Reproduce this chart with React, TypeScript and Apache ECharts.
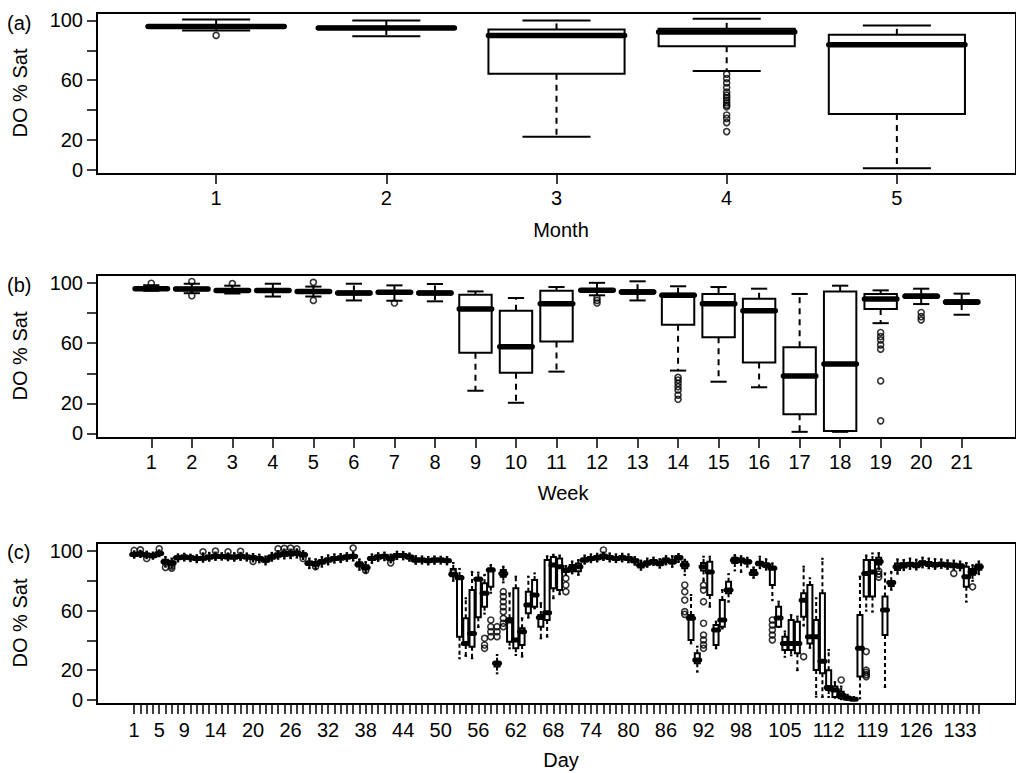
import React, { useEffect, useRef } from "react";
import * as echarts from "echarts";

const FONT = "'Liberation Sans', Arial, Helvetica, sans-serif";

// ---------- Panel (a): Month ----------
const monthCats = [1, 2, 3, 4, 5];
// [low whisker, Q1, median, Q3, high whisker]
const monthBoxes = [
  [93.3, 95.2, 96, 96.8, 100.7],
  [89.5, 94.3, 95, 95.8, 100],
  [22.2, 64.4, 90, 94, 100],
  [66.2, 82.7, 92.2, 94.4, 101.1],
  [1.1, 37.3, 83.8, 90.4, 96.7],
];
const monthOutliers = [
  [1, 90],
  [4, 64], [4, 61.1], [4, 58.2], [4, 55.1], [4, 52], [4, 50], [4, 48.4], [4, 46.7],
  [4, 44.9], [4, 43.3], [4, 42.2], [4, 36.7], [4, 34.4], [4, 31.6], [4, 25.6],
];

// ---------- Panel (b): Week ----------
const weekCats = [1, 2, 3, 4, 5, 6, 7, 8, 9, 10, 11, 12, 13, 14, 15, 16, 17, 18, 19, 20, 21];
const weekBoxes = [
  [94.8, 95.6, 96.2, 96.8, 98.5],
  [93.2, 95.2, 96, 96.8, 99.5],
  [93, 94.4, 95, 95.6, 98.2],
  [91, 94.2, 95, 95.8, 99.5],
  [91, 93.8, 94.4, 95.2, 97.6],
  [88.4, 92.4, 93.3, 94.4, 99.5],
  [88.2, 92.8, 93.8, 94.6, 98.4],
  [87.8, 92.4, 93.3, 94.4, 99.3],
  [28.4, 53.7, 82.7, 92.2, 94.4],
  [20.4, 40.4, 57.7, 81.5, 90],
  [41.1, 61.1, 86.2, 94.9, 97.3],
  [91.8, 94.3, 95.1, 96, 100.1],
  [88.4, 92.8, 94, 95.2, 101.1],
  [41.8, 72.2, 91.8, 92.9, 97.8],
  [34.4, 64, 86.2, 92.7, 97.3],
  [30.7, 47.1, 81.5, 89.5, 96.2],
  [1.1, 12.7, 38.2, 57.3, 92.7],
  [1.1, 1.6, 46.2, 94.4, 98.2],
  [73.3, 82.7, 89.3, 92.7, 95.1],
  [86, 90, 91.1, 92.3, 96.2],
  [78.9, 86, 87.3, 88.5, 92.9],
];
const weekOutliers = [
  [1, 99.8], [2, 101], [2, 91.5], [3, 99.6], [5, 100.4], [5, 88.4], [7, 86.7],
  [12, 90], [12, 88.4], [12, 86.7],
  [14, 37.3], [14, 35.5], [14, 33.3], [14, 31.1], [14, 28.9], [14, 25.5], [14, 22.7],
  [19, 67.1], [19, 64.4], [19, 62.2], [19, 58.9], [19, 56], [19, 34.9], [19, 8.4],
  [20, 80.4], [20, 77.6], [20, 75.5],
];

// ---------- Panel (c): Day ----------
const dayBoxes = [
  [95.5, 96.8, 97.6, 98.4, 99.8], [96, 97.2, 98, 98.8, 100.2], [95.2, 96.5, 97.3, 98.2, 99.6],
  [94.8, 96, 96.8, 97.6, 99], [96.5, 97.6, 98.4, 99.2, 100.5], [89.5, 91.5, 92.8, 94.2, 96],
  [88.8, 90.6, 92, 93.2, 95], [93, 94.6, 95.5, 96.4, 97.8], [93.6, 95, 96, 96.8, 98.2],
  [93.2, 94.6, 95.5, 96.3, 97.6], [92.5, 94, 95, 95.8, 97.2], [92.8, 94.4, 95.2, 96, 98.5],
  [93.5, 95, 96, 96.8, 98.8], [94, 95.6, 96.5, 97.4, 99], [94.2, 95.6, 96.4, 97.2, 98.6],
  [93.8, 95.2, 96, 96.9, 98.4], [93.5, 95, 96, 96.8, 98.6], [94, 95.6, 96.4, 97.2, 98.8],
  [93.6, 95.2, 96, 96.8, 98.4], [93, 94.6, 95.5, 96.4, 98], [92.4, 94, 95, 95.8, 97.6],
  [91, 92.8, 93.8, 94.8, 96.4], [93.5, 95, 96, 97, 98.8], [94.8, 96.4, 97.4, 98.4, 100],
  [95, 96.8, 98, 99.2, 101], [95.2, 97, 98.2, 99.4, 101], [95.6, 97.4, 98.6, 99.6, 101.2],
  [94.6, 96.4, 97.5, 98.6, 100], [88.5, 90.6, 91.8, 93, 95], [88.2, 90.2, 91.4, 92.6, 94.5],
  [89.5, 91.6, 92.8, 94, 96], [91, 93, 94, 95, 97.2], [92.2, 94, 95, 96, 97.8],
  [92.6, 94.4, 95.4, 96.4, 98], [93.4, 95, 96, 97, 98.6], [93.6, 95.4, 96.5, 97.4, 99],
  [87.4, 89.6, 91, 92.4, 94.4], [85.6, 87.6, 89, 90.4, 92.6], [92, 94, 95, 96, 97.8],
  [93.4, 95, 96, 97, 98.6], [93.8, 95.6, 96.5, 97.4, 99], [92.4, 94, 95, 96, 97.6],
  [94.6, 96, 97, 98, 99.6], [94.4, 96, 97, 97.8, 99.4], [93.4, 95, 96, 96.8, 98.4],
  [91.4, 93, 94, 95, 96.6], [91.6, 93.2, 94, 94.8, 96.4], [91, 92.6, 93.5, 94.4, 96],
  [91.4, 93, 94, 94.8, 96.4], [91.6, 93.2, 94, 94.8, 96.2], [91, 92.6, 93.5, 94.4, 96],
  [80, 83, 84.5, 88, 92],
  [28, 42.5, 82, 83.2, 88], [29.6, 36.9, 38, 54.8, 68.3], [28, 35.8, 44.7, 73.8, 86],
  [49, 55.5, 81, 82, 85.5], [58, 62.6, 71.6, 78.3, 84], [72, 76.1, 87.2, 88.3, 90.6],
  [17.9, 22.4, 24.6, 25.7, 30.2], [79, 82.8, 85, 87.2, 89.5], [34.7, 39.1, 53, 54.8, 71.6],
  [30.2, 34.7, 40.3, 75, 82.8], [29.1, 36.9, 45.8, 48.1, 54.8], [55.3, 58.2, 63.8, 72.7, 82.8],
  [61.5, 62.6, 70.5, 80.5, 85], [41.4, 49.2, 55.3, 57, 65], [42.5, 53.7, 58.6, 94, 96.5],
  [68.3, 75, 90.6, 96, 97.5], [71, 73.8, 89.5, 95, 97], [84, 86, 87, 88, 90],
  [85, 86.5, 88.4, 90.6, 93], [84, 86.5, 89.5, 91.7, 94], [91.5, 93, 94, 95, 97],
  [92.5, 94, 95, 96, 97.8], [93, 94.5, 95.5, 96.5, 98.2], [94, 95.5, 96.5, 97.5, 99],
  [93, 94.6, 95.6, 96.6, 98.4], [92.6, 94, 95, 96, 97.8], [93, 94.5, 95.5, 96.5, 98.2],
  [92.4, 94, 95, 96, 97.8], [90.8, 92.4, 93.4, 94.4, 96], [87.4, 89, 90.4, 91.6, 93.6],
  [89.4, 91, 92, 93, 95], [90.6, 92.2, 93, 94, 95.6], [88.8, 90.4, 91.7, 92.8, 94.6],
  [91, 92.8, 93.9, 95, 96.6], [89.4, 91.6, 92.8, 94, 96.6], [92.6, 94.4, 95.6, 96.6, 98],
  [84, 88.4, 90.6, 92.8, 94.2], [38, 40.3, 54.8, 57, 70.5], [19, 24.6, 26.8, 31.3, 35.8],
  [80, 87, 89.5, 92, 96.2], [62.6, 70.5, 86, 92.8, 96.2], [34.7, 36.9, 47, 50.3, 52.6],
  [48, 49.2, 53.7, 67.1, 73.8], [66, 71.6, 73.8, 79.4, 84.5], [87, 92, 93.9, 95.5, 97.3],
  [86, 92.4, 93.9, 95, 96.6], [89.5, 91.7, 92.8, 93.9, 95.5], [82, 84, 85, 87.2, 89],
  [88.5, 90.4, 91.7, 92.8, 96.2], [87.5, 89.5, 90.6, 91.7, 94.5], [67, 77.2, 88.4, 89.5, 91.7],
  [49, 49.2, 55, 62.6, 66], [29, 33.6, 38, 42.5, 46], [30, 33.6, 38, 53.7, 57],
  [20, 31.3, 38, 52.6, 56], [50, 55.9, 67, 71.6, 89.5], [35, 38, 42.5, 77.2, 81.7],
  [2.2, 20.1, 42.5, 53.7, 68.3], [2, 17.9, 26, 71.6, 94.8], [2, 6.7, 8.3, 20, 33.6],
  [1.5, 2, 6.7, 9, 12], [0.5, 1.2, 3.4, 5.6, 9], [0.2, 0.6, 1.1, 2.2, 3.5],
  [0, 0.2, 0.5, 1, 2], [1.1, 15.7, 34.7, 57, 82.8], [60, 69.4, 85, 94, 97],
  [59.3, 69.4, 86, 94, 98.4], [88, 91, 93, 95.5, 98.6], [8.7, 43.6, 60.4, 69.4, 85],
  [74, 76.5, 78.8, 79.8, 86], [84.8, 87.2, 89.5, 91.7, 94.4], [87.2, 89, 90.6, 91.8, 94],
  [88, 89.8, 91, 92.2, 95], [87.6, 89.2, 90.4, 91.6, 94.2], [89, 90.8, 92, 93.2, 95.6],
  [88.4, 90, 91.4, 92.6, 95], [88, 89.6, 90.8, 92, 94.6], [88.6, 90.2, 91.2, 92.2, 94.4],
  [88, 89.6, 90.6, 91.6, 93.8], [87.6, 89.2, 90.4, 91.4, 93.6], [87, 88.8, 90, 91, 93],
  [66, 76, 82.8, 89.5, 92], [80, 84, 86, 88, 90.5], [84.5, 87.5, 89.5, 91, 93],
];
const dayCats = dayBoxes.map((_, i) => i + 1);
const dayTickLabels = [1, 5, 9, 14, 20, 26, 32, 38, 44, 50, 56, 62, 68, 74, 80, 86, 92, 98, 105, 112, 119, 126, 133];
const dayOutliers = [
  [1, 100.4], [2, 100.8], [3, 95], [5, 101.5], [6, 89], [7, 88.5], [7, 89.8], [12, 99.5], [14, 100],
  [16, 99.5], [18, 99.8], [20, 93], [24, 101.5], [25, 101.8], [26, 102], [27, 101.5], [28, 95],
  [30, 89.5], [36, 102], [38, 87], [42, 92], [52, 85.4],
  [57, 41.4], [57, 36.9], [57, 34.7],
  [58, 53.7], [58, 49.2], [58, 45.8], [58, 42.5],
  [59, 42.5], [59, 45.8], [59, 49.2],
  [60, 72.7], [60, 69.4], [60, 66], [60, 62.6], [60, 59.3], [60, 54.8], [60, 51.5], [60, 49.2],
  [70, 81.7], [70, 77.2], [70, 72.7], [76, 100.7],
  [89, 77.2], [89, 72.7], [89, 67.1], [89, 59.3], [89, 57.5],
  [92, 77], [92, 73.8], [92, 66], [92, 51.5], [92, 43.6], [92, 40.3], [92, 37], [92, 34.7],
  [97, 93.9], [103, 53.7], [103, 50.3], [103, 47], [103, 43.6], [103, 40.3],
  [108, 29.1], [114, 13.4], [118, 32.5], [118, 20], [118, 18.5], [118, 17], [118, 15.7],
  [120, 86.5], [120, 84.5], [120, 82.5], [132, 85], [135, 76],
];

const yTicks = [0, 20, 40, 60, 80, 100];
const yLabels = [0, 20, 60, 100];

function boxRender(boxWidth: number, lw: number, medLw: number, dash: number[]) {
  return (params: any, api: any) => {
    const x = api.value(0);
    const lo = api.coord([x, api.value(1)]);
    const q1 = api.coord([x, api.value(2)]);
    const md = api.coord([x, api.value(3)]);
    const q3 = api.coord([x, api.value(4)]);
    const hi = api.coord([x, api.value(5)]);
    const w = api.size([boxWidth, 0])[0];
    const hw = w / 2;
    const sw = w / 4;
    const cx = lo[0];
    const s = { stroke: "#000", lineWidth: lw, fill: null };
    return {
      type: "group",
      children: [
        { type: "line", shape: { x1: cx, y1: q3[1], x2: cx, y2: hi[1] }, style: { ...s, lineDash: dash } },
        { type: "line", shape: { x1: cx, y1: q1[1], x2: cx, y2: lo[1] }, style: { ...s, lineDash: dash } },
        { type: "line", shape: { x1: cx - sw, y1: hi[1], x2: cx + sw, y2: hi[1] }, style: s },
        { type: "line", shape: { x1: cx - sw, y1: lo[1], x2: cx + sw, y2: lo[1] }, style: s },
        {
          type: "rect",
          shape: { x: cx - hw, y: q3[1], width: w, height: q1[1] - q3[1] },
          style: { stroke: "#000", lineWidth: lw, fill: "#fff" },
        },
        {
          type: "line",
          shape: { x1: cx - hw, y1: md[1], x2: cx + hw, y2: md[1] },
          style: { stroke: "#000", lineWidth: medLw, lineCap: "round" },
        },
      ],
    };
  };
}

const grids = [
  { left: 97, top: 13, width: 929, height: 161 },
  { left: 97, top: 275, width: 929, height: 163 },
  { left: 97, top: 543, width: 929, height: 161 },
];

function xAxisCfg(idx: number, min: number, max: number, ticks: number[], labels: number[], margin: number) {
  return {
    gridIndex: idx,
    type: "value",
    position: "bottom",
    min,
    max,
    axisLine: { show: false, onZero: false },
    splitLine: { show: false },
    axisTick: { show: true, length: 10, customValues: ticks, lineStyle: { color: "#000", width: 1.5 } },
    axisLabel: { customValues: labels, color: "#000", fontSize: 20, fontFamily: FONT, margin },
  };
}
function yAxisCfg(idx: number, min: number, max: number) {
  return {
    gridIndex: idx,
    type: "value",
    position: "left",
    min,
    max,
    axisLine: { show: false, onZero: false },
    splitLine: { show: false },
    axisTick: { show: true, length: 10, customValues: yTicks, lineStyle: { color: "#000", width: 1.5 } },
    axisLabel: { customValues: yLabels, color: "#000", fontSize: 20, fontFamily: FONT, margin: 14 },
  };
}

function textEl(text: string, x: number, y: number, align: string, rotation = 0) {
  return {
    type: "text",
    x,
    y,
    rotation,
    style: { text, fill: "#000", font: `20px ${FONT}`, textAlign: align, textVerticalAlign: "middle" },
  };
}

export default function App() {
  const ref = useRef<HTMLDivElement>(null);
  useEffect(() => {
    if (!ref.current) return;
    const chart = echarts.init(ref.current, null, { renderer: "svg" });
    const outStyle = (size: number) => ({
      type: "scatter",
      symbol: "circle",
      symbolSize: size,
      itemStyle: { color: "rgba(0,0,0,0)", borderColor: "#000", borderWidth: 1.6 },
      z: 5,
    });
    chart.setOption({
      animation: false,
      grid: grids.map((g) => ({ ...g, show: true, borderColor: "#000", borderWidth: 2, backgroundColor: "transparent" })),
      xAxis: [
        xAxisCfg(0, 0.3, 5.7, monthCats, monthCats, 14),
        xAxisCfg(1, -0.34, 22.34, weekCats, weekCats, 14),
        xAxisCfg(2, -4.94, 141.94, dayCats, dayTickLabels, 16),
      ],
      yAxis: [yAxisCfg(0, -2.8, 105), yAxisCfg(1, -3, 105.3), yAxisCfg(2, -2.7, 105.4)],
      series: [
        {
          type: "custom",
          xAxisIndex: 0,
          yAxisIndex: 0,
          renderItem: boxRender(0.8, 2, 5.5, [6, 5]),
          encode: { x: 0, y: [1, 2, 3, 4, 5] },
          data: monthBoxes.map((b, i) => [monthCats[i], ...b]),
        },
        { ...outStyle(6), xAxisIndex: 0, yAxisIndex: 0, data: monthOutliers },
        {
          type: "custom",
          xAxisIndex: 1,
          yAxisIndex: 1,
          renderItem: boxRender(0.8, 2, 5.5, [6, 5]),
          encode: { x: 0, y: [1, 2, 3, 4, 5] },
          data: weekBoxes.map((b, i) => [weekCats[i], ...b]),
        },
        { ...outStyle(6), xAxisIndex: 1, yAxisIndex: 1, data: weekOutliers },
        {
          type: "custom",
          xAxisIndex: 2,
          yAxisIndex: 2,
          renderItem: boxRender(0.8, 2, 5, [4, 3]),
          encode: { x: 0, y: [1, 2, 3, 4, 5] },
          data: dayBoxes.map((b, i) => [dayCats[i], ...b]),
        },
        { ...outStyle(6), xAxisIndex: 2, yAxisIndex: 2, data: dayOutliers },
      ],
      graphic: [
        textEl("(a)", 7, 23, "left"),
        textEl("(b)", 7, 285, "left"),
        textEl("(c)", 7, 552, "left"),
        textEl("DO % Sat", 20, 93, "center", Math.PI / 2),
        textEl("DO % Sat", 20, 356, "center", Math.PI / 2),
        textEl("DO % Sat", 20, 623, "center", Math.PI / 2),
        textEl("Month", 561, 230, "center"),
        textEl("Week", 563, 493, "center"),
        textEl("Day", 561, 760, "center"),
      ],
    });
    return () => chart.dispose();
  }, []);
  return (
    <div
      ref={ref}
      style={{ position: "fixed", left: 0, top: 0, width: 1016, height: 773, background: "#fff" }}
    />
  );
}
